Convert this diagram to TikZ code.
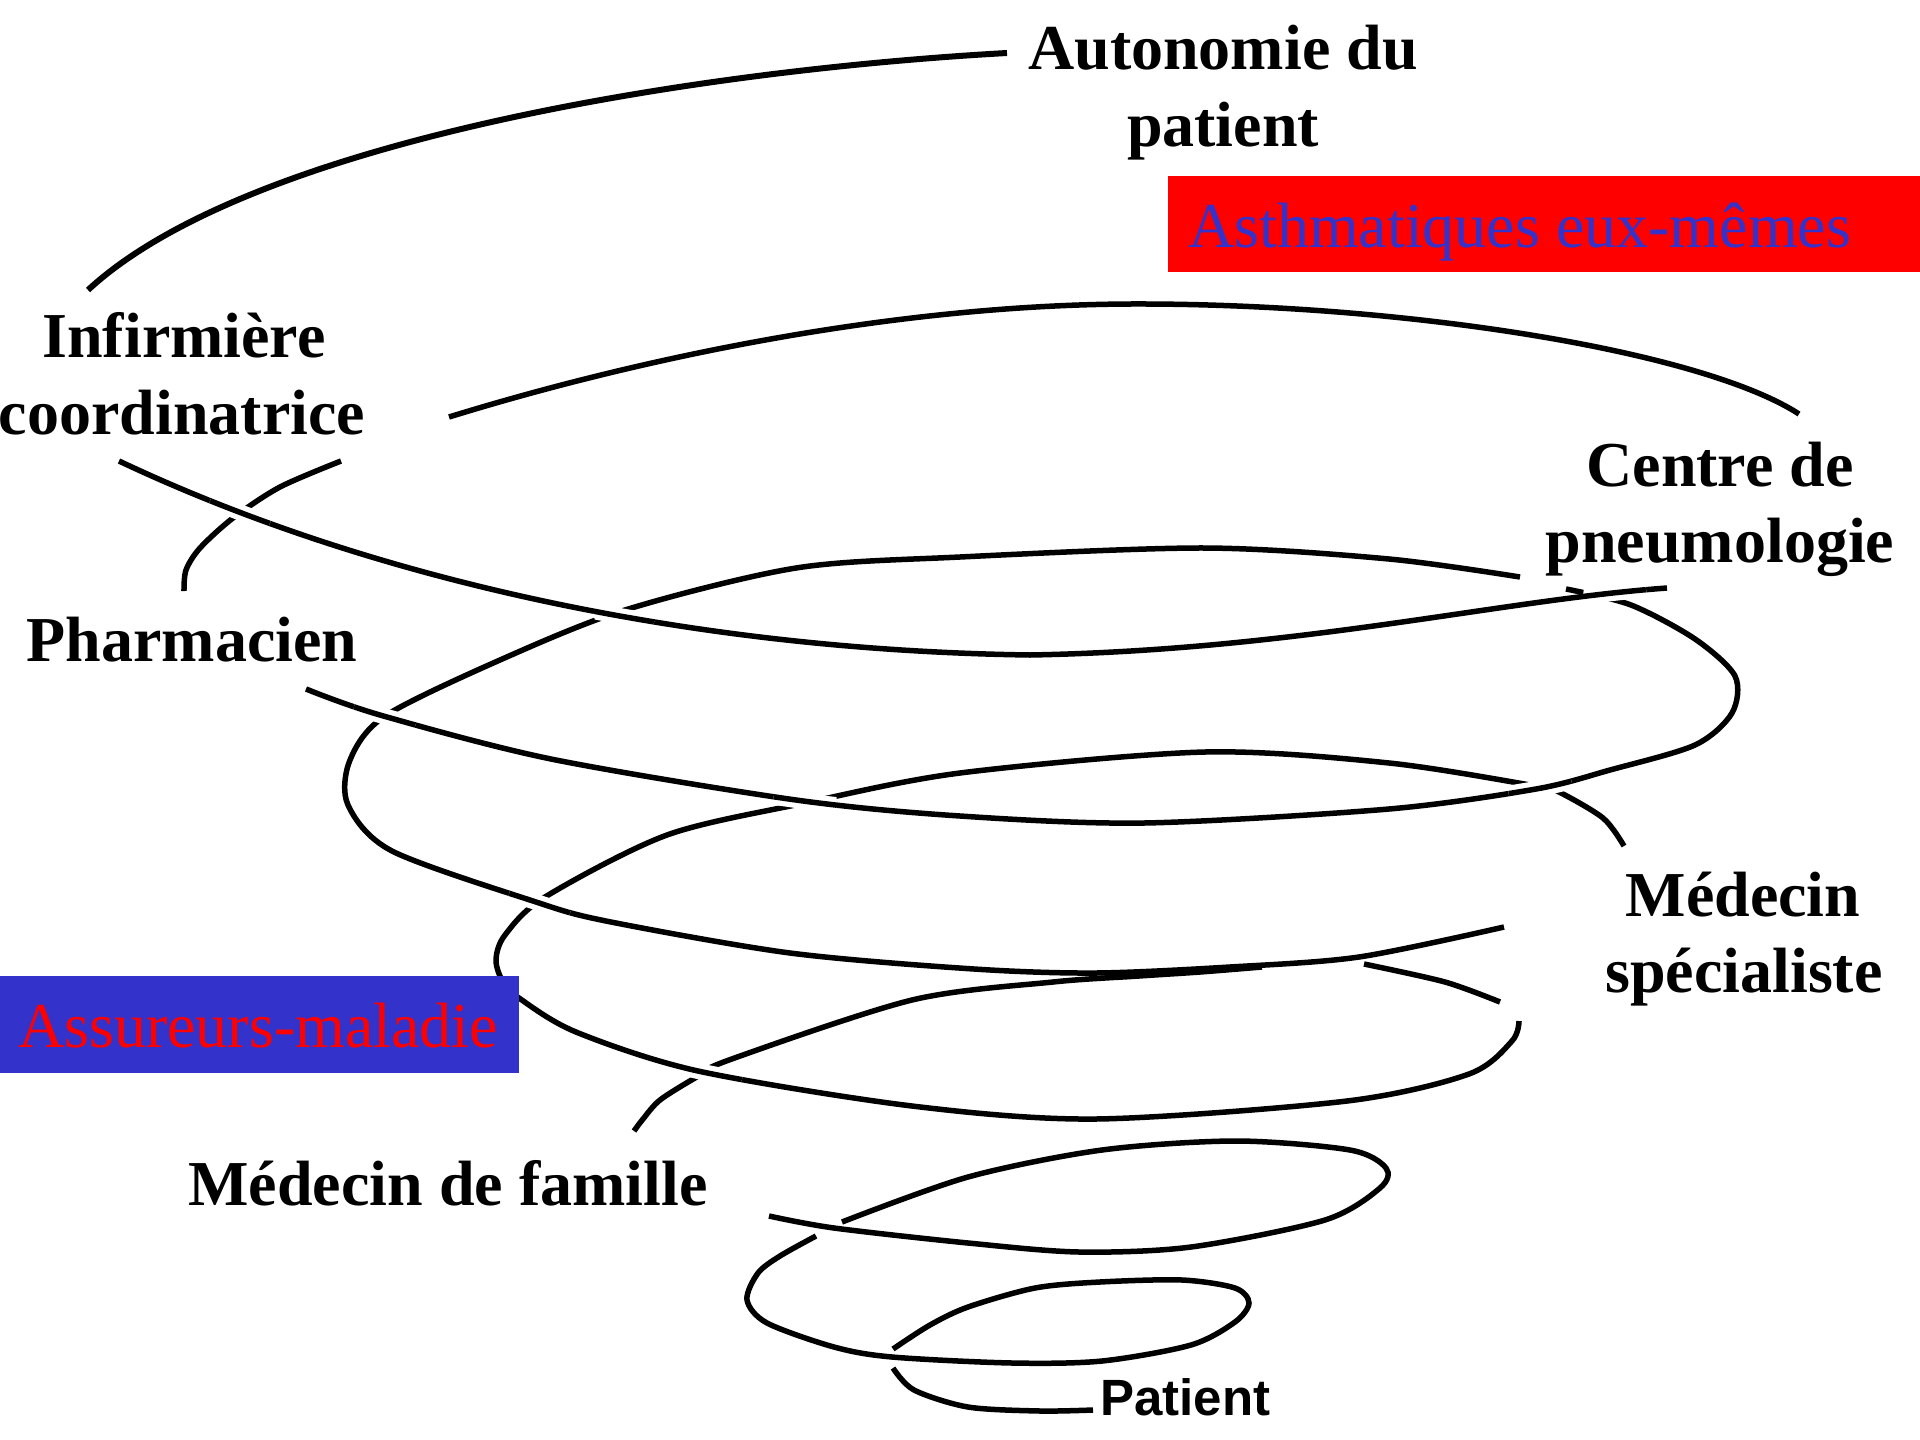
\documentclass[tikz,border=0pt]{standalone}
\usepackage{fontspec}
\setmainfont{Liberation Serif}
\newfontfamily\patfont{Liberation Sans}
\definecolor{boxred}{RGB}{255,0,0}
\definecolor{boxblue}{RGB}{51,51,204}
% spiral strands (each macro draws one strand with the given options)
\newcommand\spiA[1]{\draw[#1] (1007,53) .. controls (700,70) and (250,140) .. (88,290);}
\newcommand\spiB[1]{\draw[#1] (449,417) .. controls (650,355) and (900,305) .. (1130,304) .. controls (1400,303) and (1700,350) .. (1799,414);}
\newcommand\spiC[1]{\draw[#1] (119,461) .. controls (360,575) and (680,650) .. (1030,655) .. controls (1300,650) and (1500,600) .. (1667,588);}
\newcommand\spiD[1]{\draw[#1] plot[smooth] coordinates {(341,461) (280,487) (233,518) (200,548) (186,570) (184,591)};}
\newcommand\spiE[1]{\draw[#1] plot[smooth] coordinates {(306,689) (380,715) (551,759) (796,800) (960,816) (1144,823) (1389,809) (1536,789) (1610,770) (1695,745) (1732,713) (1735,676) (1695,639) (1631,605) (1566,589)};}
\newcommand\spiF[1]{\draw[#1] plot[smooth] coordinates {(1520,577) (1389,559) (1205,548) (960,557) (796,568) (625,610) (500,660) (385,716) (350,760) (348,805) (392,851) (533,901) (606,921) (790,953) (974,969) (1096,973) (1230,967) (1359,957) (1504,927)};}
\newcommand\spiG[1]{\draw[#1] plot[smooth] coordinates {(1624,846) (1603,818) (1557,791) (1536,786) (1389,763) (1205,752) (960,773) (805,803) (667,835) (545,897) (505,935) (496,960) (503,982) (519,998) (576,1032) (698,1071) (912,1106) (1096,1119) (1347,1101) (1469,1074) (1512,1041) (1519,1021)};}
\newcommand\spiH[1]{\draw[#1] plot[smooth] coordinates {(1364,964) (1445,982) (1500,1002)};}
\newcommand\spiI[1]{\draw[#1] plot[smooth] coordinates {(1262,967) (1200,972) (1139,976) (1053,982) (912,1000) (729,1060) (695,1078) (660,1100) (643,1119) (634,1131)};}
\newcommand\spiJ[1]{\draw[#1] plot[smooth] coordinates {(769,1216) (834,1228) (968,1243) (1079,1252) (1191,1247) (1325,1220) (1380,1188) (1386,1168) (1350,1150) (1236,1141) (1102,1150) (968,1177) (842,1222)};}
\newcommand\spiK[1]{\draw[#1] plot[smooth] coordinates {(816,1236) (780,1256) (758,1273) (747,1300) (767,1323) (834,1347) (892,1357) (1012,1363) (1102,1361) (1191,1345) (1235,1322) (1249,1303) (1235,1288) (1182,1280) (1100,1282) (1035,1288) (968,1307) (930,1325) (893,1349)};}
\newcommand\spiL[1]{\draw[#1] plot[smooth] coordinates {(893,1368) (914,1390) (968,1407) (1040,1411) (1093,1410)};}
% redraw an over-strand with a white halo inside a small disc round a crossing
\newcommand\crossing[3]{\begin{scope}\clip (#1) circle (32);#2{over}\end{scope}}
\begin{document}
\begin{tikzpicture}[x=1pt,y=-1pt,
  strand/.style={line width=5.5pt, black},
  over/.style={strand, preaction={draw=white, line width=16pt}},
  lbl/.style={font=\fontsize{64}{77}\selectfont\bfseries, inner sep=0pt, anchor=base},
  boxtxt/.style={font=\fontsize{64}{77}\selectfont, inner sep=0pt, anchor=base west},
]
\useasboundingbox (0,0) rectangle (1920,1440);
\fill[white] (0,0) rectangle (1920,1440);

% strands
\spiA{strand, line width=6pt}
\spiB{strand}
\spiC{strand}
\spiD{strand}
\spiE{strand}
\spiF{strand}
\spiG{strand}
\spiH{strand}
\spiI{strand}
\spiJ{strand}
\spiK{strand}
\spiL{strand}

% crossings (over-strand redrawn with halo)
\crossing{240,512}{\spiC}{}
\crossing{625,609}{\spiC}{}
\crossing{1615,597}{\spiC}{}
\crossing{385,715}{\spiE}{}
\crossing{805,803}{\spiE}{}
\crossing{1540,787}{\spiE}{}
\crossing{540,902}{\spiF}{}
\crossing{712,1068}{\spiG}{}

% coloured boxes
\fill[boxred] (1168,176) rectangle (1920,272);
\node[boxtxt, text=boxblue] (asth) at (1188,247) {Asthmatiques eux-mêmes};
\fill[boxblue] (0,976) rectangle (519,1073);
\node[boxtxt, text=boxred] (assu) at (18,1047) {Assureurs-maladie};

% labels
\node[lbl] (auto1) at (1223,69) {Autonomie du};
\node[lbl] (auto2) at (1223,146) {patient};
\node[lbl] (inf1) at (184,357) {Infirmière};
\node[lbl] (inf2) at (182,434) {coordinatrice};
\node[lbl] (pharm) at (192,661) {Pharmacien};
\node[lbl] (cent1) at (1720,486) {Centre de};
\node[lbl] (cent2) at (1720,562) {pneumologie};
\node[lbl] (spec1) at (1743,916) {Médecin};
\node[lbl] (spec2) at (1744,992) {spécialiste};
\node[lbl] (fam) at (448,1205) {Médecin de famille};
\node[font=\patfont\fontsize{51}{60}\selectfont\bfseries, inner sep=0pt, anchor=base west] (pat) at (1100,1415) {Patient};
\end{tikzpicture}
\end{document}
